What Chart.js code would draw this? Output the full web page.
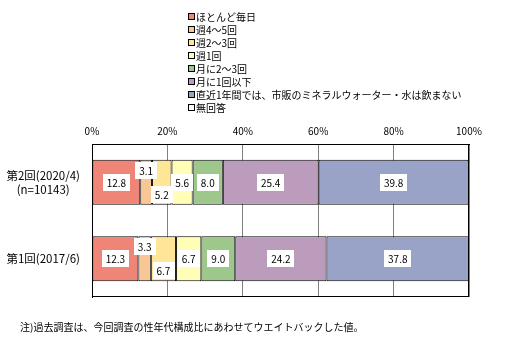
<!DOCTYPE html>
<html><head><meta charset="utf-8">
<script src="https://cdn.jsdelivr.net/npm/chart.js@4/dist/chart.umd.min.js"></script>
<style>html,body{margin:0;padding:0;background:#fff}#wrap{width:524px;height:345px;position:relative}</style>
</head><body><div id="wrap"><canvas id="c" width="524" height="345"></canvas></div>
<script>
const categories = [["第2回(2020/4)", "(n=10143)"], ["第1回(2017/6)"]];
const seriesNames = ["ほとんど毎日", "週4～5回", "週2～3回", "週1回", "月に2～3回", "月に1回以下", "直近1年間では、市販のミネラルウォーター・水は飲まない", "無回答"];
const almostDaily = [12.8, 12.3];
const weekly45 = [3.1, 3.3];
const weekly23 = [5.2, 6.7];
const weekly1 = [5.6, 6.7];
const monthly23 = [8.0, 9.0];
const monthly1 = [25.4, 24.2];
const noBuy = [39.8, 37.8];
const noAnswer = [0.1, 0.0];
const xTicks = [0, 20, 40, 60, 80, 100];
const footnote = "注)過去調査は、今回調査の性年代構成比にあわせてウエイトバックした値。";

const colors = ["#EE8577", "#F9C796", "#FFE597", "#FFFDB6", "#9EC78B", "#BB9CBD", "#99A3C8", "#FFFFFF"];
const values = [almostDaily, weekly45, weekly23, weekly1, monthly23, monthly1, noBuy, noAnswer];
const FONT = "'Noto Sans CJK JP', sans-serif";
const labelOffsets = [0, -12, 12, 0, 0, 0, 0, 0];

const datasets = values.map((v, i) => ({
  label: seriesNames[i], data: v, backgroundColor: colors[i],
  borderColor: "#000", borderWidth: 1, borderSkipped: false,
  barPercentage: 0.59, categoryPercentage: 1.0
}));

const extras = {
  id: "extras",
  afterDatasetsDraw(chart) {
    const ctx = chart.ctx;
    const ca = chart.chartArea;
    ctx.save();
    ctx.strokeStyle = "#000"; ctx.lineWidth = 1;
    ctx.strokeRect(ca.left + 0.5, ca.top + 0.5, ca.right - ca.left - 1, ca.bottom - ca.top - 1);
    ctx.font = "10px " + FONT;
    ctx.textAlign = "center"; ctx.textBaseline = "middle";
    chart.data.datasets.forEach((ds, di) => {
      if (di === 7) return;
      const meta = chart.getDatasetMeta(di);
      meta.data.forEach((el, j) => {
        const v = ds.data[j];
        const t = v.toFixed(1);
        const cx = (el.x + el.base) / 2;
        const cy = el.y + labelOffsets[di];
        const w = ctx.measureText(t).width + 8;
        const h = 17;
        ctx.fillStyle = "#fff";
        ctx.fillRect(Math.round(cx - w / 2), Math.round(cy - h / 2), Math.round(w), h);
        ctx.fillStyle = "#000";
        ctx.fillText(t, cx, cy + 0.5);
      });
    });
    ctx.textAlign = "left"; ctx.textBaseline = "middle";
    ctx.font = "10px " + FONT;
    seriesNames.forEach((n, i) => {
      const y = 17 + i * 13;
      ctx.fillStyle = colors[i];
      ctx.fillRect(188.5, y - 3, 6, 6);
      ctx.strokeStyle = "#000"; ctx.lineWidth = 1;
      ctx.strokeRect(188.5, y - 3.5, 6, 6);
      ctx.fillStyle = "#000";
      ctx.fillText(n, 196, y);
    });
    ctx.fillText(footnote, 20, 327);
    ctx.restore();
  }
};

new Chart(document.getElementById("c"), {
  type: "bar",
  data: { labels: categories, datasets },
  options: {
    indexAxis: "y", responsive: false, animation: false,
    layout: { padding: { left: 0, right: 55, top: 0, bottom: 48 } },
    plugins: { legend: { display: false }, tooltip: { enabled: false } },
    scales: {
      x: {
        position: "top", stacked: true, min: 0, max: 100,
        afterBuildTicks(s) { s.ticks = xTicks.map(v => ({ value: v })); },
        afterFit(s) { s.height = 144; },
        ticks: { callback: v => v + "%", color: "#000", font: { family: FONT, size: 10 }, padding: 7 },
        grid: { color: "#808080", lineWidth: 1, drawTicks: false },
        border: { color: "#000", width: 1 }
      },
      y: {
        stacked: true,
        afterFit(s) { s.width = 92; },
        ticks: { color: "#000", font: { family: FONT, size: 11.5 }, crossAlign: "center", padding: 12, lineHeight: 1.35 },
        grid: { display: false, drawTicks: false },
        border: { color: "#000", width: 1 }
      }
    }
  },
  plugins: [extras]
});
</script></body></html>
